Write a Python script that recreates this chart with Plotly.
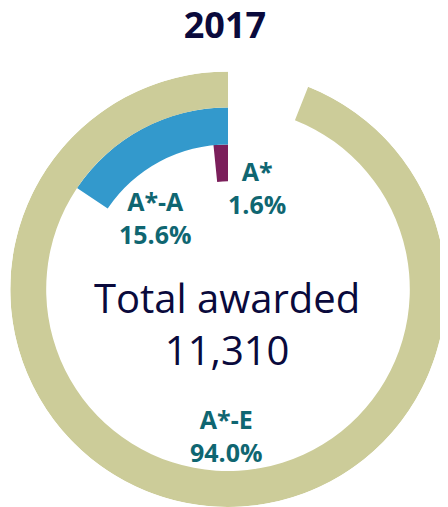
import plotly.graph_objects as go

year = "2017"
categories = ["A*", "A*-A", "A*-E"]
percent = [1.6, 15.6, 94.0]
total_awarded = 11310

colors = ["#7B1F5B", "#3399CC", "#CCCC99"]
# inner radius and thickness of each band (pixels on the radial scale)
band_base = [108, 145, 182]
band_size = [37, 37, 36]

fig = go.Figure()

for cat, pct, col, base, size in zip(categories, percent, colors, band_base, band_size):
    span = pct * 3.6
    fig.add_trace(go.Barpolar(
        r=[size],
        base=[base],
        theta=[span / 2],
        width=[span],
        marker=dict(color=col, line=dict(width=0)),
        name=cat,
        hoverinfo="skip",
    ))

# page body has an 8px margin, so the figure is 8px short of the window on each side
label_font = dict(family="Open Sans", size=25, color="#0F6671")
label_pos = {"A*": (0.566, 0.641), "A*-A": (0.336, 0.580), "A*-E": (0.497, 0.144)}
for cat, pct in zip(categories, percent):
    x, y = label_pos[cat]
    fig.add_annotation(
        x=x, y=y, xref="paper", yref="paper",
        xanchor="center", yanchor="middle",
        text=f"<b>{cat}</b><br><b>{pct:.1f}%</b>",
        showarrow=False, font=label_font, align="center",
    )

fig.add_annotation(
    x=0.4977, y=0.368, xref="paper", yref="paper",
    xanchor="center", yanchor="middle",
    text=f"Total awarded<br>{total_awarded:,}",
    showarrow=False, align="center",
    font=dict(family="Open Sans", size=40, color="#0A0A3C"),
)

fig.update_layout(
    width=440, height=499,
    margin=dict(l=0, r=0, t=0, b=0),
    paper_bgcolor="white",
    showlegend=False,
    title=dict(
        text="<b>" + year + "</b>",
        x=0.493, xanchor="center", y=0.9655, yanchor="middle",
        font=dict(family="Open Sans", size=36, color="#0A0A3C"),
    ),
    polar=dict(
        domain=dict(x=[0.0045, 0.9955], y=[0.0, 0.8728]),
        bgcolor="white",
        hole=0,
        radialaxis=dict(range=[0, 218], visible=False, showgrid=False),
        angularaxis=dict(
            direction="counterclockwise", rotation=90,
            visible=False, showgrid=False, showline=False, showticklabels=False,
        ),
        bargap=0,
    ),
)

fig.write_html("out.html")
